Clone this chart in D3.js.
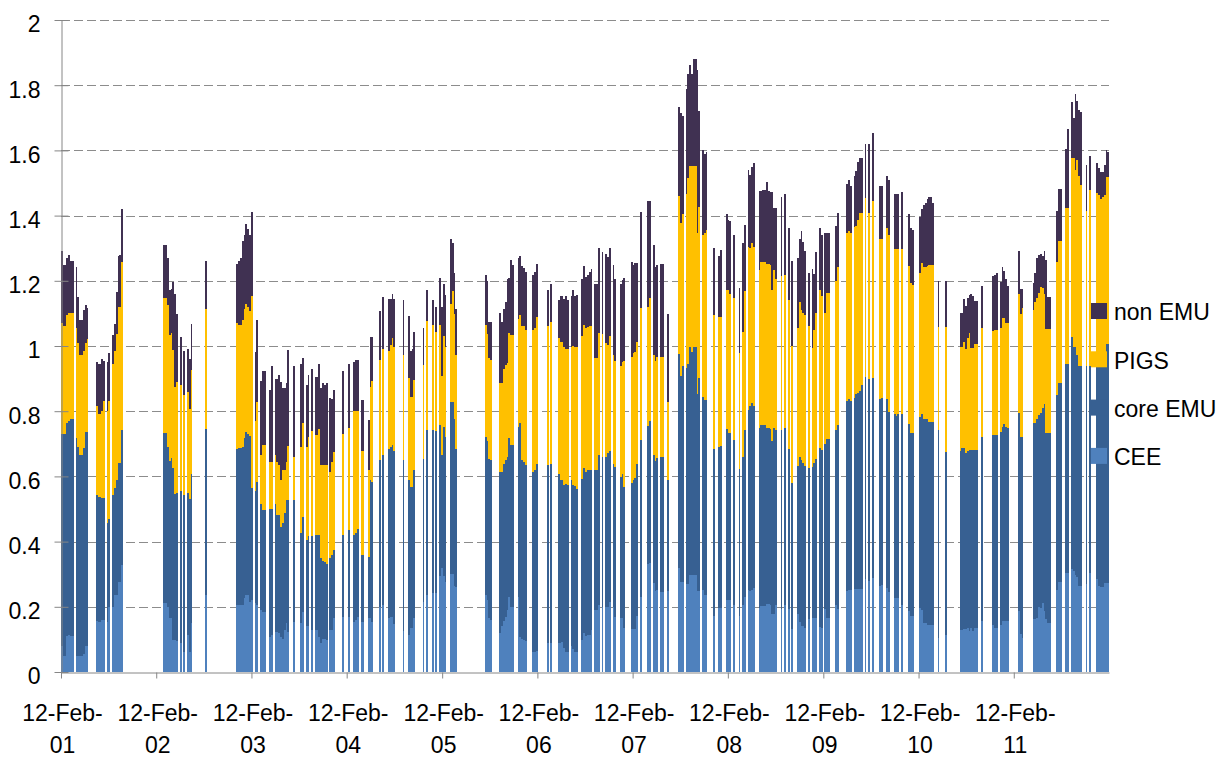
<!DOCTYPE html>
<html><head><meta charset="utf-8">
<script src="https://cdn.jsdelivr.net/npm/d3@7"></script>
<style>
body{margin:0;background:#fff}
text{font-family:"Liberation Sans",Arial,sans-serif;fill:#000}
</style>
</head><body>
<svg id="chart" width="1227" height="758"></svg>
<script>
// ---------- DATA ----------
const seriesNames = ["CEE", "core EMU", "PIGS", "non EMU"];
const seriesColors = ["#4F81BD", "#376092", "#FFC000", "#403152"];
const yTicks = [0, 0.2, 0.4, 0.6, 0.8, 1, 1.2, 1.4, 1.6, 1.8, 2];
const tickYears = [2001, 2002, 2003, 2004, 2005, 2006, 2007, 2008, 2009, 2010, 2011];

// week number counted from 12-Feb-2001
const weeks = [
 0,1,2,3,4,5,6,8,9,10,11,12,13,14,19,20,21,22,23,25,26,28,29,30,31,32,33,
 56,57,58,59,60,61,62,63,65,67,69,70,71,79,
 96,97,98,99,100,101,102,103,104,106,107,109,110,111,114,115,117,118,119,120,121,122,123,124,127,131,132,134,135,137,139,140,141,142,143,144,145,147,148,149,154,157,160,161,162,164,165,168,169,170,174,
 176,179,180,181,182,187,190,191,192,193,198,200,203,205,207,208,209,210,213,214,215,216,
 232,233,234,235,240,241,242,243,244,245,246,247,250,251,252,253,254,258,259,260,266,268,272,273,274,275,276,277,279,280,281,282,285,286,287,288,289,290,292,293,294,296,298,299,300,302,303,306,307,308,
 312,313,314,315,317,321,322,324,325,326,328,329,332,338,339,340,342,343,344,345,346,347,348,349,351,352,353,357,360,361,364,365,366,368,371,373,374,376,377,378,379,
 382,383,384,385,386,387,388,389,390,391,394,396,398,400,403,404,405,406,407,409,411,412,413,415,416,418,419,420,424,425,430,431,432,434,435,436,437,438,440,442,444,448,449,452,453,456,457,458,460,464,465,466,470,471,472,473,474,475,476,477,480,484,
 492,493,494,495,496,497,498,499,500,501,504,510,511,512,514,515,516,517,518,524,525,526,532,533,534,535,536,537,538,539,540,541,545,546,547,550,551,553,554,555,556,557,558,561,563,567,568,569,570,571,572,573
];

const cee = [
 0.08,0.05,0.05,0.11,0.115,0.11,0.11,0.05,0.048,0.048,0.048,0.055,0.08,0.08,0.156,0.154,0.154,0.16,0.16,0.152,0.2,0.2,0.236,0.236,0.277,0.277,0.328,
 0.213,0.213,0.2,0.165,0.165,0.098,0.098,0.095,0.09,0.06,0.113,0.06,0.15,0.236,
 0.205,0.205,0.205,0.205,0.226,0.236,0.236,0.216,0.22,0.213,0.205,0.19,0.185,0.185,0.108,0.113,0.124,0.124,0.12,0.108,0.1,0.128,0.15,0.124,0.154,0.15,0.185,0.14,0.14,0.13,0.13,0.13,0.108,0.09,0.1,0.1,0.098,0.13,0.13,0.165,0.17,0.17,0.154,0.16,0.17,0.154,0.154,0.165,0.165,0.154,0.2,
 0.205,0.167,0.17,0.17,0.147,0.127,0.113,0.136,0.136,0.167,0.215,0.236,0.241,0.241,0.294,0.32,0.294,0.277,0.3,0.3,0.264,0.26,
 0.236,0.22,0.166,0.16,0.121,0.14,0.157,0.17,0.19,0.23,0.2,0.2,0.23,0.108,0.1,0.098,0.095,0.062,0.06,0.065,0.09,0.09,0.09,0.09,0.092,0.075,0.062,0.062,0.08,0.072,0.062,0.062,0.098,0.121,0.11,0.113,0.113,0.13,0.19,0.19,0.205,0.2,0.2,0.2,0.215,0.2,0.17,0.167,0.167,0.135,
 0.133,0.133,0.133,0.172,0.231,0.33,0.335,0.274,0.25,0.253,0.244,0.244,0.25,0.32,0.277,0.277,0.271,0.271,0.299,0.299,0.299,0.299,0.25,0.25,0.253,0.237,0.237,0.172,0.197,0.197,0.221,0.22,0.22,0.207,0.172,0.204,0.231,0.253,0.25,0.253,0.258,
 0.197,0.203,0.203,0.203,0.209,0.209,0.204,0.178,0.178,0.204,0.193,0.204,0.193,0.132,0.178,0.154,0.141,0.14,0.134,0.162,0.165,0.165,0.167,0.138,0.134,0.193,0.165,0.165,0.204,0.193,0.248,0.251,0.251,0.255,0.255,0.255,0.255,0.255,0.284,0.278,0.289,0.264,0.266,0.259,0.244,0.226,0.226,0.226,0.207,0.187,0.171,0.171,0.195,0.189,0.149,0.149,0.145,0.145,0.145,0.145,0.105,0.113,
 0.128,0.128,0.133,0.133,0.136,0.125,0.136,0.125,0.136,0.136,0.155,0.143,0.136,0.136,0.143,0.157,0.157,0.157,0.155,0.186,0.116,0.104,0.163,0.163,0.167,0.198,0.195,0.213,0.186,0.163,0.151,0.151,0.251,0.275,0.275,0.304,0.304,0.316,0.31,0.298,0.292,0.263,0.263,0.269,0.304,0.286,0.265,0.26,0.26,0.272,0.272,0.272
];

const coreEmu = [
 0.65,0.68,0.68,0.655,0.655,0.666,0.666,0.669,0.641,0.618,0.618,0.631,0.657,0.657,0.387,0.383,0.383,0.375,0.375,0.306,0.27,0.343,0.327,0.353,0.363,0.363,0.414,
 0.519,0.519,0.491,0.483,0.49,0.527,0.448,0.455,0.466,0.483,0.437,0.47,0.457,0.509,
 0.479,0.481,0.481,0.485,0.491,0.499,0.494,0.509,0.343,0.343,0.379,0.325,0.312,0.312,0.393,0.388,0.391,0.358,0.362,0.338,0.358,0.359,0.378,0.404,0.374,0.277,0.291,0.265,0.277,0.287,0.29,0.29,0.312,0.259,0.24,0.236,0.232,0.219,0.229,0.209,0.25,0.265,0.266,0.265,0.27,0.206,0.206,0.187,0.424,0.43,0.45,
 0.461,0.517,0.521,0.526,0.532,0.523,0.476,0.432,0.432,0.453,0.438,0.506,0.501,0.499,0.464,0.346,0.458,0.443,0.529,0.529,0.512,0.424,
 0.484,0.488,0.487,0.49,0.493,0.474,0.48,0.48,0.47,0.487,0.496,0.496,0.522,0.657,0.55,0.547,0.54,0.552,0.56,0.572,0.545,0.547,0.517,0.499,0.497,0.499,0.514,0.512,0.509,0.502,0.508,0.498,0.494,0.506,0.504,0.507,0.507,0.49,0.43,0.43,0.461,0.46,0.46,0.471,0.463,0.437,0.46,0.43,0.44,0.433,
 0.446,0.456,0.462,0.466,0.481,0.425,0.436,0.391,0.398,0.404,0.415,0.415,0.339,0.654,0.632,0.661,0.663,0.673,0.697,0.682,0.697,0.697,0.604,0.651,0.592,0.596,0.598,0.511,0.493,0.497,0.524,0.514,0.514,0.505,0.451,0.455,0.512,0.552,0.567,0.573,0.559,
 0.552,0.555,0.555,0.555,0.54,0.54,0.542,0.531,0.57,0.538,0.549,0.544,0.492,0.448,0.454,0.506,0.508,0.5,0.498,0.463,0.464,0.475,0.487,0.549,0.546,0.505,0.55,0.55,0.538,0.566,0.582,0.587,0.579,0.586,0.597,0.601,0.608,0.625,0.62,0.622,0.613,0.574,0.575,0.579,0.553,0.564,0.56,0.564,0.585,0.574,0.563,0.563,0.586,0.603,0.626,0.626,0.63,0.623,0.623,0.623,0.637,0.563,
 0.549,0.559,0.554,0.54,0.541,0.556,0.545,0.556,0.545,0.545,0.567,0.585,0.592,0.592,0.593,0.595,0.603,0.595,0.593,0.609,0.606,0.618,0.601,0.601,0.608,0.589,0.6,0.598,0.636,0.571,0.583,0.583,0.599,0.612,0.612,0.642,0.642,0.713,0.686,0.698,0.68,0.677,0.677,0.671,0.636,0.66,0.675,0.68,0.686,0.707,0.735,0.733
];

const pigs = [
 0.34,0.33,0.33,0.33,0.33,0.324,0.324,0.337,0.319,0.306,0.306,0.299,0.273,0.283,0.273,0.253,0.253,0.265,0.295,0.342,0.36,0.402,0.423,0.448,0.48,0.48,0.517,
 0.416,0.416,0.435,0.386,0.385,0.363,0.329,0.34,0.324,0.307,0.31,0.276,0.319,0.368,
 0.386,0.379,0.379,0.39,0.396,0.394,0.39,0.382,0.59,0.215,0.245,0.151,0.199,0.199,0.144,0.144,0.151,0.163,0.153,0.143,0.162,0.133,0.117,0.165,0.132,0.263,0.289,0.284,0.303,0.321,0.307,0.307,0.325,0.286,0.295,0.299,0.305,0.265,0.286,0.301,0.31,0.315,0.38,0.375,0.36,0.318,0.318,0.268,0.286,0.309,0.307,
 0.325,0.301,0.312,0.329,0.318,0.322,0.314,0.277,0.277,0.277,0.289,0.335,0.322,0.304,0.306,0.242,0.279,0.277,0.3,0.341,0.322,0.288,
 0.344,0.329,0.309,0.307,0.274,0.274,0.293,0.293,0.289,0.323,0.339,0.339,0.331,0.33,0.411,0.416,0.414,0.435,0.434,0.453,0.426,0.436,0.418,0.424,0.424,0.423,0.415,0.417,0.408,0.426,0.428,0.438,0.439,0.437,0.44,0.439,0.441,0.441,0.342,0.342,0.374,0.377,0.35,0.333,0.353,0.335,0.323,0.342,0.343,0.387,
 0.386,0.388,0.386,0.373,0.404,0.364,0.377,0.306,0.305,0.308,0.306,0.306,0.238,0.487,0.467,0.467,0.533,0.57,0.555,0.57,0.555,0.555,0.493,0.524,0.496,0.514,0.522,0.412,0.398,0.394,0.426,0.437,0.425,0.434,0.357,0.384,0.426,0.499,0.483,0.491,0.487,
 0.484,0.499,0.499,0.499,0.502,0.502,0.504,0.464,0.484,0.462,0.473,0.47,0.455,0.419,0.424,0.475,0.462,0.46,0.462,0.436,0.366,0.41,0.446,0.486,0.472,0.402,0.449,0.449,0.458,0.484,0.517,0.515,0.517,0.523,0.517,0.53,0.545,0.528,0.55,0.508,0.544,0.489,0.486,0.523,0.545,0.508,0.512,0.508,0.506,0.484,0.459,0.454,0.442,0.464,0.468,0.468,0.47,0.482,0.48,0.48,0.316,0.382,
 0.319,0.309,0.324,0.318,0.349,0.359,0.312,0.312,0.326,0.326,0.332,0.318,0.322,0.322,0.318,0.333,0.325,0.318,0.322,0.363,0.375,0.395,0.345,0.371,0.371,0.377,0.387,0.368,0.336,0.318,0.318,0.318,0.408,0.436,0.436,0.477,0.477,0.547,0.58,0.545,0.598,0.583,0.554,0.475,0.538,0.524,0.524,0.512,0.512,0.485,0.51,0.512
];

const nonEmu = [
 0.22,0.19,0.19,0.175,0.18,0.16,0.16,0.187,0.143,0.108,0.108,0.125,0.117,0.097,0.134,0.155,0.155,0.16,0.125,0.15,0.15,0.089,0.082,0.129,0.156,0.16,0.161,
 0.162,0.162,0.143,0.138,0.135,0.209,0.286,0.208,0.149,0.135,0.13,0.154,0.141,0.147,
 0.182,0.195,0.204,0.242,0.227,0.245,0.24,0.233,0.258,0.212,0.251,0.227,0.227,0.227,0.22,0.294,0.233,0.254,0.276,0.301,0.25,0.25,0.242,0.295,0.279,0.255,0.197,0.191,0.191,0.191,0.179,0.179,0.2,0.235,0.252,0.245,0.251,0.227,0.191,0.19,0.193,0.195,0.152,0.157,0.157,0.156,0.156,0.153,0.154,0.136,0.151,
 0.16,0.159,0.141,0.135,0.147,0.169,0.189,0.14,0.146,0.146,0.114,0.095,0.077,0.076,0.146,0.212,0.159,0.159,0.199,0.147,0.125,0.141,
 0.154,0.162,0.113,0.118,0.212,0.187,0.183,0.191,0.256,0.17,0.228,0.214,0.186,0.181,0.184,0.179,0.178,0.169,0.173,0.162,0.111,0.117,0.116,0.14,0.14,0.148,0.162,0.149,0.156,0.172,0.155,0.158,0.176,0.181,0.158,0.159,0.166,0.175,0.228,0.228,0.26,0.25,0.272,0.268,0.269,0.276,0.252,0.251,0.252,0.255,
 0.292,0.272,0.274,0.244,0.295,0.325,0.296,0.339,0.29,0.284,0.286,0.286,0.271,0.271,0.338,0.302,0.322,0.321,0.312,0.284,0.33,0.33,0.5,0.295,0.259,0.243,0.237,0.205,0.188,0.206,0.234,0.216,0.225,0.195,0.197,0.274,0.201,0.235,0.226,0.231,0.257,
 0.241,0.217,0.222,0.222,0.253,0.223,0.221,0.298,0.192,0.22,0.242,0.248,0.221,0.263,0.214,0.193,0.242,0.22,0.198,0.162,0.242,0.171,0.187,0.188,0.187,0.246,0.182,0.182,0.167,0.165,0.151,0.156,0.143,0.159,0.168,0.178,0.17,0.17,0.165,0.211,0.207,0.163,0.163,0.159,0.167,0.167,0.167,0.167,0.173,0.161,0.168,0.167,0.172,0.165,0.189,0.197,0.207,0.207,0.209,0.192,0.142,0.142,
 0.106,0.106,0.133,0.132,0.12,0.116,0.165,0.159,0.13,0.13,0.13,0.169,0.167,0.173,0.142,0.156,0.144,0.135,0.114,0.132,0.079,0.059,0.084,0.088,0.124,0.114,0.1,0.097,0.132,0.212,0.097,0.097,0.157,0.159,0.159,0.18,0.244,0.171,0.124,0.232,0.183,0.2,0.224,0.141,0.104,0.091,0.083,0.081,0.075,0.092,0.083,0.077
];

// ---------- CHART ----------
const svg = d3.select("#chart");
const plot = {left: 61, right: 1109, top: 20, bottom: 672};

[cee, coreEmu, pigs, nonEmu].forEach((a, k) => {
  if (a.length !== weeks.length) console.error("length mismatch", seriesNames[k], a.length, weeks.length);
});

const start = new Date(Date.UTC(2001, 1, 12));
const end = new Date(Date.UTC(2012, 1, 12));
const x = d3.scaleUtc().domain([start, end]).range([plot.left, plot.right]);
const y = d3.scaleLinear().domain([0, 2]).range([plot.bottom, plot.top]);

const keys = ["cee", "core", "pigs", "non"];
const rows = weeks.map((w, i) => ({
  date: d3.utcDay.offset(start, 7 * w),
  cee: cee[i], core: coreEmu[i], pigs: pigs[i], non: nonEmu[i]
}));
const layers = d3.stack().keys(keys)(rows);

// gridlines
svg.append("g").selectAll("line")
  .data(yTicks.filter(v => v > 0))
  .join("line")
  .attr("x1", plot.left).attr("x2", plot.right)
  .attr("y1", d => Math.round(y(d)) + 0.5).attr("y2", d => Math.round(y(d)) + 0.5)
  .attr("stroke", "#8c8c8c").attr("stroke-width", 1)
  .attr("stroke-dasharray", "9,4");

// bars
svg.append("g").selectAll("g")
  .data(layers)
  .join("g")
  .attr("fill", (d, i) => seriesColors[i])
  .selectAll("rect")
  .data(d => d)
  .join("rect")
  .attr("shape-rendering", "crispEdges")
  .attr("x", d => x(d.data.date))
  .attr("width", d => x(d3.utcDay.offset(d.data.date, 7)) - x(d.data.date))
  .attr("y", d => y(d[1]))
  .attr("height", d => y(d[0]) - y(d[1]));

// y axis
const yAxis = svg.append("g")
  .attr("transform", `translate(${plot.left + 0.5},0)`)
  .call(d3.axisLeft(y).tickValues(yTicks).tickFormat(d => String(d)).tickSize(7).tickSizeOuter(0).tickPadding(14));
yAxis.select(".domain").attr("stroke", "#868686");
yAxis.selectAll(".tick line").attr("stroke", "#868686").attr("x1", 7);
yAxis.selectAll(".tick text").style("font-size", "23px").attr("fill", "#000").attr("dy", "0.52em");

// x axis
const tickDates = tickYears.map(yr => new Date(Date.UTC(yr, 1, 12)));
const fmt = d3.utcFormat("%d-%b-%y");
const xAxis = svg.append("g")
  .attr("transform", `translate(0,${plot.bottom + 0.5})`)
  .call(d3.axisBottom(x).tickValues(tickDates).tickFormat(fmt).tickSize(6).tickSizeOuter(0));
xAxis.select(".domain").attr("stroke", "#868686");
xAxis.selectAll(".tick line").attr("stroke", "#868686");
xAxis.selectAll(".tick text").each(function(d) {
  const s = fmt(d);
  const t = d3.select(this).text(null).attr("y", 0).attr("dy", null)
    .style("font-size", "23px").attr("fill", "#000");
  t.append("tspan").attr("x", 1).attr("y", 48.5).text(s.slice(0, 7));
  t.append("tspan").attr("x", 1).attr("y", 80.5).text(s.slice(7));
});

// legend (top to bottom: non EMU, PIGS, core EMU, CEE)
const legendOrder = [3, 2, 1, 0];
const lg = svg.append("g");
legendOrder.forEach((si, j) => {
  const ly = 303 + j * 48.3;
  lg.append("rect").attr("x", 1091).attr("y", ly).attr("width", 16).attr("height", 16)
    .attr("fill", seriesColors[si]);
  lg.append("text").attr("x", 1114).attr("y", ly + 9).attr("dy", "0.36em")
    .style("font-size", "23px").text(seriesNames[si]);
});
</script>
</body></html>
